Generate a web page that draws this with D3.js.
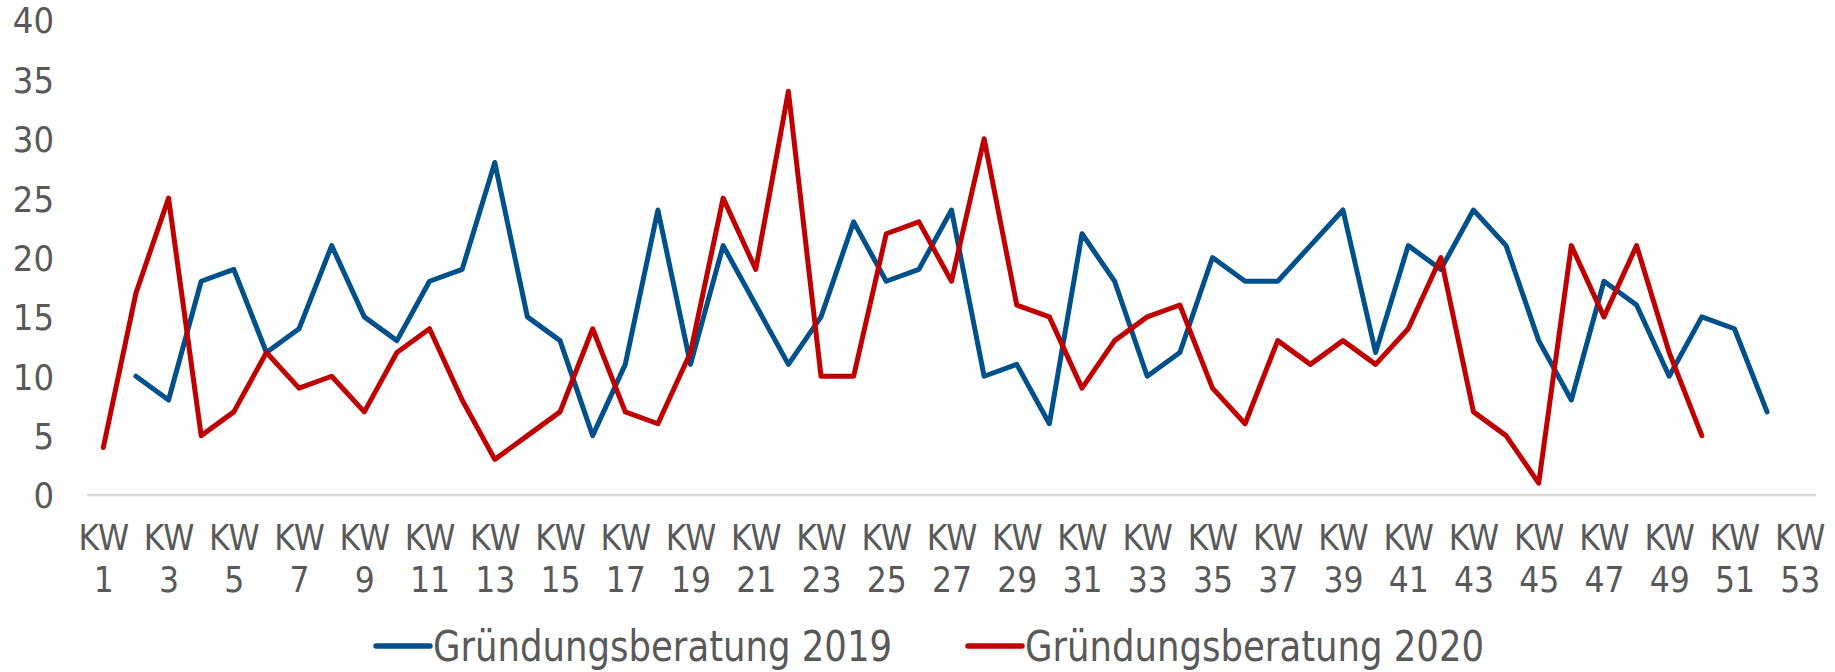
<!DOCTYPE html>
<html>
<head>
<meta charset="utf-8">
<script src="https://cdn.jsdelivr.net/npm/d3@7"></script>
<style>
  body { margin: 0; background: #fff; }
  svg text { font-family: "DejaVu Sans Condensed", "DejaVu Sans", sans-serif; fill: #595959; }
</style>
</head>
<body>
<div id="chart"></div>
<script>
// Kalenderwochen
const weeks = [1, 2, 3, 4, 5, 6, 7, 8, 9, 10, 11, 12, 13, 14, 15, 16, 17, 18, 19, 20,
    21, 22, 23, 24, 25, 26, 27, 28, 29, 30, 31, 32, 33, 34, 35, 36, 37, 38, 39, 40,
    41, 42, 43, 44, 45, 46, 47, 48, 49, 50, 51, 52, 53];

// Gründungsberatung 2019 (KW 1 und KW 53 ohne Wert)
const values2019 = [null, 10, 8, 18, 19, 12, 14, 21, 15, 13, 18, 19, 28, 15, 13, 5, 11, 24, 11, 21,
    16, 11, 15, 23, 18, 19, 24, 10, 11, 6, 22, 18, 10, 12, 20, 18, 18, 21, 24, 12,
    21, 19, 24, 21, 13, 8, 18, 16, 10, 15, 14, 7, null];

// Gründungsberatung 2020 (bis KW 50)
const values2020 = [4, 17, 25, 5, 7, 12, 9, 10, 7, 12, 14, 8, 3, 5, 7, 14, 7, 6, 12, 25,
    19, 34, 10, 10, 22, 23, 18, 30, 16, 15, 9, 13, 15, 16, 9, 6, 13, 11, 13, 11,
    14, 20, 7, 5, 1, 21, 15, 21, 12, 5, null, null, null];

const seriesNames = ["Gründungsberatung 2019", "Gründungsberatung 2020"];
const seriesColors = ["#00508c", "#c00000"];
const yTicks = [0, 5, 10, 15, 20, 25, 30, 35, 40];

const width = 1835, height = 672;
const plot = { left: 87, right: 1816, top: 20, bottom: 495 };

const svg = d3.select("#chart").append("svg")
    .attr("width", width)
    .attr("height", height);

const x = d3.scalePoint()
    .domain(weeks)
    .range([plot.left, plot.right])
    .padding(0.5);

const y = d3.scaleLinear()
    .domain([0, 40])
    .range([plot.bottom, plot.top]);

// y axis labels
const yAxis = svg.append("g")
    .attr("transform", `translate(${plot.left},0)`)
    .call(d3.axisLeft(y).tickValues(yTicks).tickSize(0).tickPadding(33));
yAxis.select(".domain").remove();
yAxis.selectAll("text")
    .style("font-size", "36px")
    .attr("dy", "0.36em");

// x axis: gray baseline plus two-line labels for odd weeks
const xAxis = svg.append("g")
    .attr("transform", `translate(0,${plot.bottom})`)
    .call(d3.axisBottom(x).tickValues(weeks.filter(w => w % 2 === 1)).tickSize(0).tickSizeOuter(0));
xAxis.select(".domain")
    .attr("d", `M${plot.left},0H${plot.right}`)
    .attr("stroke", "#d9d9d9")
    .attr("stroke-width", 2.5);
xAxis.selectAll(".tick text").each(function(w) {
    const t = d3.select(this).text(null).attr("y", 0).attr("dy", null).style("font-size", "35px");
    t.append("tspan").attr("x", 0).attr("y", 55).text("KW");
    t.append("tspan").attr("x", 0).attr("y", 97).text(w);
});

// lines
const line = d3.line()
    .defined(d => d.v != null)
    .x(d => x(d.w))
    .y(d => y(d.v));

[values2019, values2020].forEach((vals, i) => {
    svg.append("path")
        .datum(weeks.map((w, j) => ({ w: w, v: vals[j] })))
        .attr("fill", "none")
        .attr("stroke", seriesColors[i])
        .attr("stroke-width", 5)
        .attr("stroke-linejoin", "round")
        .attr("stroke-linecap", "round")
        .attr("d", line);
});

// legend
const legendX = [376, 968];
const legend = svg.append("g");
seriesNames.forEach((name, i) => {
    const g = legend.append("g").attr("transform", `translate(${legendX[i]},646)`);
    g.append("line")
        .attr("x1", 0).attr("x2", 54)
        .attr("stroke", seriesColors[i])
        .attr("stroke-width", 5.5)
        .attr("stroke-linecap", "round");
    g.append("text")
        .attr("x", 57)
        .attr("dy", "0.36em")
        .attr("textLength", 459)
        .attr("lengthAdjust", "spacingAndGlyphs")
        .style("font-size", "43px")
        .text(name);
});
</script>
</body>
</html>
